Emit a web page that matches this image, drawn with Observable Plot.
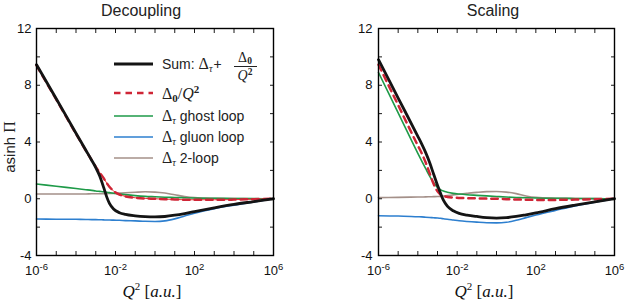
<!DOCTYPE html>
<html><head><meta charset="utf-8">
<script src="https://cdn.jsdelivr.net/npm/d3@7"></script>
<script src="https://cdn.jsdelivr.net/npm/@observablehq/plot@0.6"></script>
<style>
body{margin:0;background:#fff}
#c{position:relative;width:627px;height:304px;background:#fff}
#c svg{position:absolute;top:0}
</style>
</head><body><div id="c"></div>
<script>
// ---------- data (x given as log10 Q^2) ----------
const decLogQ   = [-6, -5, -4, -3.5, -3.2, -3, -2.8, -2.6, -2.45, -2.3, -2.1, -1.8, -1.5, -1, -0.5, 0, 0.5, 1, 1.5, 2, 3, 4, 5, 6];
const decSum    = [9.45, 7.05, 4.62, 3.42, 2.7, 2.2, 1.6, 0.8, 0.15, -0.35, -0.72, -0.98, -1.1, -1.2, -1.26, -1.28, -1.25, -1.16, -1.04, -0.9, -0.64, -0.4, -0.2, 0];
const decD0     = [9.4, 7.0, 4.58, 3.4, 2.7, 2.25, 1.85, 1.45, 1.12, 0.83, 0.55, 0.3, 0.17, 0.07, 0.02, 0, -0.03, -0.05, -0.07, -0.07, -0.07, -0.06, -0.03, 0];
const decGhost  = [1.04, 0.88, 0.72, 0.64, 0.59, 0.55, 0.52, 0.49, 0.46, 0.43, 0.39, 0.34, 0.29, 0.22, 0.17, 0.14, 0.11, 0.09, 0.07, 0.05, 0.03, 0.02, 0.01, 0];
const decGluon  = [-1.43, -1.44, -1.45, -1.46, -1.47, -1.47, -1.48, -1.49, -1.5, -1.5, -1.51, -1.52, -1.54, -1.56, -1.59, -1.6, -1.56, -1.42, -1.22, -1.02, -0.7, -0.45, -0.22, 0];
const decTwoLoop= [0.33, 0.33, 0.34, 0.34, 0.35, 0.35, 0.35, 0.36, 0.36, 0.37, 0.38, 0.40, 0.42, 0.46, 0.49, 0.47, 0.40, 0.28, 0.16, 0.08, 0.03, 0.01, 0.005, 0];

const scaLogQ   = [-6, -5, -4, -3.8, -3.6, -3.4, -3.2, -3.0, -2.85, -2.7, -2.5, -2.2, -1.9, -1.5, -1, -0.5, 0, 0.5, 1, 1.5, 2, 3, 4, 5, 6];
const scaSum    = [9.8, 7.1, 4.4, 3.85, 3.25, 2.55, 1.75, 0.95, 0.4, -0.1, -0.52, -0.85, -1.03, -1.15, -1.25, -1.33, -1.36, -1.33, -1.25, -1.13, -1.0, -0.7, -0.45, -0.22, 0];
const scaD0     = [9.45, 6.6, 3.75, 3.2, 2.55, 1.8, 1.05, 0.52, 0.3, 0.2, 0.13, 0.08, 0.06, 0.04, 0.03, 0.01, 0, -0.03, -0.05, -0.07, -0.08, -0.08, -0.06, -0.03, 0];
const scaGhost  = [8.9, 6.05, 3.2, 2.65, 2.12, 1.6, 1.15, 0.8, 0.64, 0.54, 0.46, 0.38, 0.33, 0.28, 0.24, 0.2, 0.16, 0.12, 0.09, 0.07, 0.05, 0.03, 0.02, 0.01, 0];
const scaGluon  = [-1.2, -1.22, -1.27, -1.28, -1.3, -1.32, -1.34, -1.36, -1.38, -1.41, -1.45, -1.5, -1.55, -1.6, -1.65, -1.69, -1.7, -1.66, -1.52, -1.33, -1.15, -0.82, -0.5, -0.25, 0];
const scaTwoLoop= [0.08, 0.1, 0.12, 0.125, 0.13, 0.14, 0.15, 0.16, 0.17, 0.19, 0.22, 0.27, 0.32, 0.38, 0.45, 0.5, 0.51, 0.47, 0.36, 0.2, 0.1, 0.04, 0.02, 0.01, 0];

const panelTitles = ["Decoupling", "Scaling"];
const xLabelExp   = [-6, -2, 2, 6];
const xMinorExp   = [-6, -5, -4, -3, -2, -1, 0, 1, 2, 3, 4, 5, 6];
const yLabelVals  = [-4, 0, 4, 8, 12];
const yMinorVals  = [-4, -2, 0, 2, 4, 6, 8, 10, 12];
const legendNames = ["ghost loop", "gluon loop", "2-loop"];

const C = {sum:"#141414", d0:"#cf2536", ghost:"#1e9a48", gluon:"#2d7fcf", two:"#a49089"};
const SANS = "'Liberation Sans', Arial, Helvetica, sans-serif";
const SERIF = "'Liberation Serif', 'Times New Roman', serif";

const rows = (L, v) => L.map((e, i) => ({q: Math.pow(10, e), v: v[i]}));

function panel(cfg) {
  const lineOpts = {x: "q", y: "v", curve: "monotone-x"};
  const marks = [
    Plot.line(rows(cfg.L, cfg.two),   {...lineOpts, stroke: C.two,   strokeWidth: 1.6}),
    Plot.line(rows(cfg.L, cfg.gluon), {...lineOpts, stroke: C.gluon, strokeWidth: 1.6}),
    Plot.line(rows(cfg.L, cfg.ghost), {...lineOpts, stroke: C.ghost, strokeWidth: 1.6}),
    cfg.thinRed ? Plot.line(rows(cfg.L, cfg.d0), {...lineOpts, stroke: "#ee3030", strokeWidth: 1}) : null,
    Plot.line(rows(cfg.L, cfg.d0),    {...lineOpts, stroke: C.d0, strokeWidth: 2.5, strokeDasharray: "6.5,5"}),
    Plot.line(rows(cfg.L, cfg.sum),   {...lineOpts, stroke: C.sum, strokeWidth: 2.8}),
    Plot.frame({stroke: "#000", strokeWidth: 1.4}),
    Plot.axisX(xMinorExp.map(e => Math.pow(10, e)), {anchor: "bottom", tickSize: 4, dy: -4, fill: "none", label: null, strokeWidth: 0.9}),
    Plot.axisX(xMinorExp.map(e => Math.pow(10, e)), {anchor: "top", tickSize: 4, dy: 4, fill: "none", label: null, strokeWidth: 0.9}),
    Plot.axisY(yMinorVals, {anchor: "left", tickSize: 4, dx: 4, fill: "none", label: null, strokeWidth: 0.9}),
    Plot.axisY(yMinorVals, {anchor: "right", tickSize: 4, dx: -4, fill: "none", label: null, strokeWidth: 0.9}),
    Plot.axisX(xLabelExp.map(e => Math.pow(10, e)), {anchor: "bottom", tickSize: 0, tickPadding: 10, fontSize: 13, fill: "#111",
      tickFormat: d => String(Math.round(Math.log10(d))), label: null}),
    Plot.axisY(yLabelVals, {anchor: "left", tickSize: 0, tickPadding: cfg.yPad, fontSize: 13, fill: "#111",
      tickFormat: d => String(d), label: null})
  ];
  const svg = Plot.plot({
    width: cfg.width, height: 304,
    marginLeft: cfg.ml, marginRight: cfg.mr, marginTop: 28, marginBottom: 49,
    x: {type: "log", domain: [1e-6, 1e6]},
    y: {domain: [-4, 12]},
    style: {fontFamily: SANS, fontSize: "13px", background: "transparent", overflow: "visible"},
    marks
  });
  svg.style.left = cfg.left + "px";
  const s = d3.select(svg);
  // exponent tick labels 10^n
  s.selectAll('g[aria-label="x-axis tick label"] text').each(function() {
    const e = this.textContent;
    const t = d3.select(this);
    t.text(null);
    t.append("tspan").text("10");
    t.append("tspan").attr("dy", "-0.5em").attr("font-size", "9.5px").text(e);
  });
  // title
  s.append("text").attr("x", cfg.titleX).attr("y", 16).attr("text-anchor", "middle")
    .attr("font-family", SANS).attr("font-size", 16).attr("fill", "#222").text(cfg.title);
  // x label
  const xl = s.append("text").attr("x", cfg.xlabX).attr("y", 297).attr("text-anchor", "middle")
    .attr("font-family", SERIF).attr("font-size", 17).attr("fill", "#111");
  xl.append("tspan").attr("font-style", "italic").text("Q");
  xl.append("tspan").attr("font-size", 11).attr("dy", -7).text("2");
  xl.append("tspan").attr("dy", 7).text(" [");
  xl.append("tspan").attr("font-style", "italic").text("a.u.");
  xl.append("tspan").text("]");
  return svg;
}

const left = panel({title: panelTitles[0], L: decLogQ, sum: decSum, d0: decD0, ghost: decGhost, gluon: decGluon, two: decTwoLoop,
  width: 313, ml: 36, mr: 40, left: 0, yPad: 5, titleX: 141, xlabX: 152, thinRed: true});
const right = panel({title: panelTitles[1], L: scaLogQ, sum: scaSum, d0: scaD0, ghost: scaGhost, gluon: scaGluon, two: scaTwoLoop,
  width: 314, ml: 65, mr: 13, left: 313, yPad: 6, titleX: 180, xlabX: 171, thinRed: false});

const c = document.getElementById("c");
c.appendChild(left);
c.appendChild(right);

// y label on left panel
const sl = d3.select(left);
const yl = sl.append("text").attr("transform", "translate(15,147) rotate(-90)").attr("text-anchor", "middle")
  .attr("font-family", SANS).attr("font-size", 15).attr("fill", "#222");
yl.append("tspan").text("asinh ");
yl.append("tspan").attr("font-family", SERIF).attr("font-size", 16).text("Π");

// legend
const lg = sl.append("g").attr("text-anchor", "start");
const legendRows = [
  {y: 64, stroke: C.sum, w: 2.8, dash: null},
  {y: 93, stroke: C.d0, w: 2.5, dash: "6.5,5"},
  {y: 116, stroke: C.ghost, w: 1.6, dash: null},
  {y: 137, stroke: C.gluon, w: 1.6, dash: null},
  {y: 158, stroke: C.two, w: 1.6, dash: null}
];
legendRows.forEach(r => {
  lg.append("line").attr("x1", 114).attr("x2", 153).attr("y1", r.y).attr("y2", r.y)
    .attr("stroke", r.stroke).attr("stroke-width", r.w).attr("stroke-dasharray", r.dash);
});
// row 1
const t1 = lg.append("text").attr("x", 162).attr("y", 69).attr("text-anchor", "start").attr("font-family", SANS).attr("font-size", 14).attr("fill", "#222");
t1.append("tspan").text("Sum: ");
t1.append("tspan").attr("font-family", SERIF).attr("font-size", 16).text("Δ");
t1.append("tspan").attr("font-family", SERIF).attr("font-style", "italic").attr("font-size", 10).attr("dy", 3).text("τ");
t1.append("tspan").attr("dy", -3).attr("dx", 1).text("+");
const num = lg.append("text").attr("x", 245).attr("y", 61.5).attr("text-anchor", "middle").attr("font-family", SERIF).attr("font-size", 14).attr("fill", "#222");
num.append("tspan").text("Δ");
num.append("tspan").attr("font-size", 9.5).attr("font-weight", "bold").attr("dy", 2).text("0");
lg.append("line").attr("x1", 234).attr("x2", 257).attr("y1", 66.5).attr("y2", 66.5).attr("stroke", "#222").attr("stroke-width", 1);
const den = lg.append("text").attr("x", 245).attr("y", 80).attr("text-anchor", "middle").attr("font-family", SERIF).attr("font-size", 14).attr("fill", "#222");
den.append("tspan").attr("font-style", "italic").text("Q");
den.append("tspan").attr("font-size", 9.5).attr("font-weight", "bold").attr("dy", -5).text("2");
// row 2
const t2 = lg.append("text").attr("x", 162).attr("y", 98.5).attr("text-anchor", "start").attr("font-family", SERIF).attr("font-size", 16).attr("fill", "#222");
t2.append("tspan").text("Δ");
t2.append("tspan").attr("font-size", 11).attr("font-weight", "bold").attr("dy", 3).text("0");
t2.append("tspan").attr("dy", -3).text("/");
t2.append("tspan").attr("font-style", "italic").text("Q");
t2.append("tspan").attr("font-size", 11).attr("font-weight", "bold").attr("dy", -6).text("2");
// rows 3-5
[116, 137, 158].forEach((y, i) => {
  const t = lg.append("text").attr("x", 162).attr("y", y + 5).attr("text-anchor", "start").attr("font-family", SERIF).attr("font-size", 16).attr("fill", "#222");
  t.append("tspan").text("Δ");
  t.append("tspan").attr("font-style", "italic").attr("font-size", 10).attr("dy", 3).text("τ");
  t.append("tspan").attr("dy", -3).attr("font-family", SANS).attr("font-size", 14).text(" " + legendNames[i]);
});
</script></body></html>
